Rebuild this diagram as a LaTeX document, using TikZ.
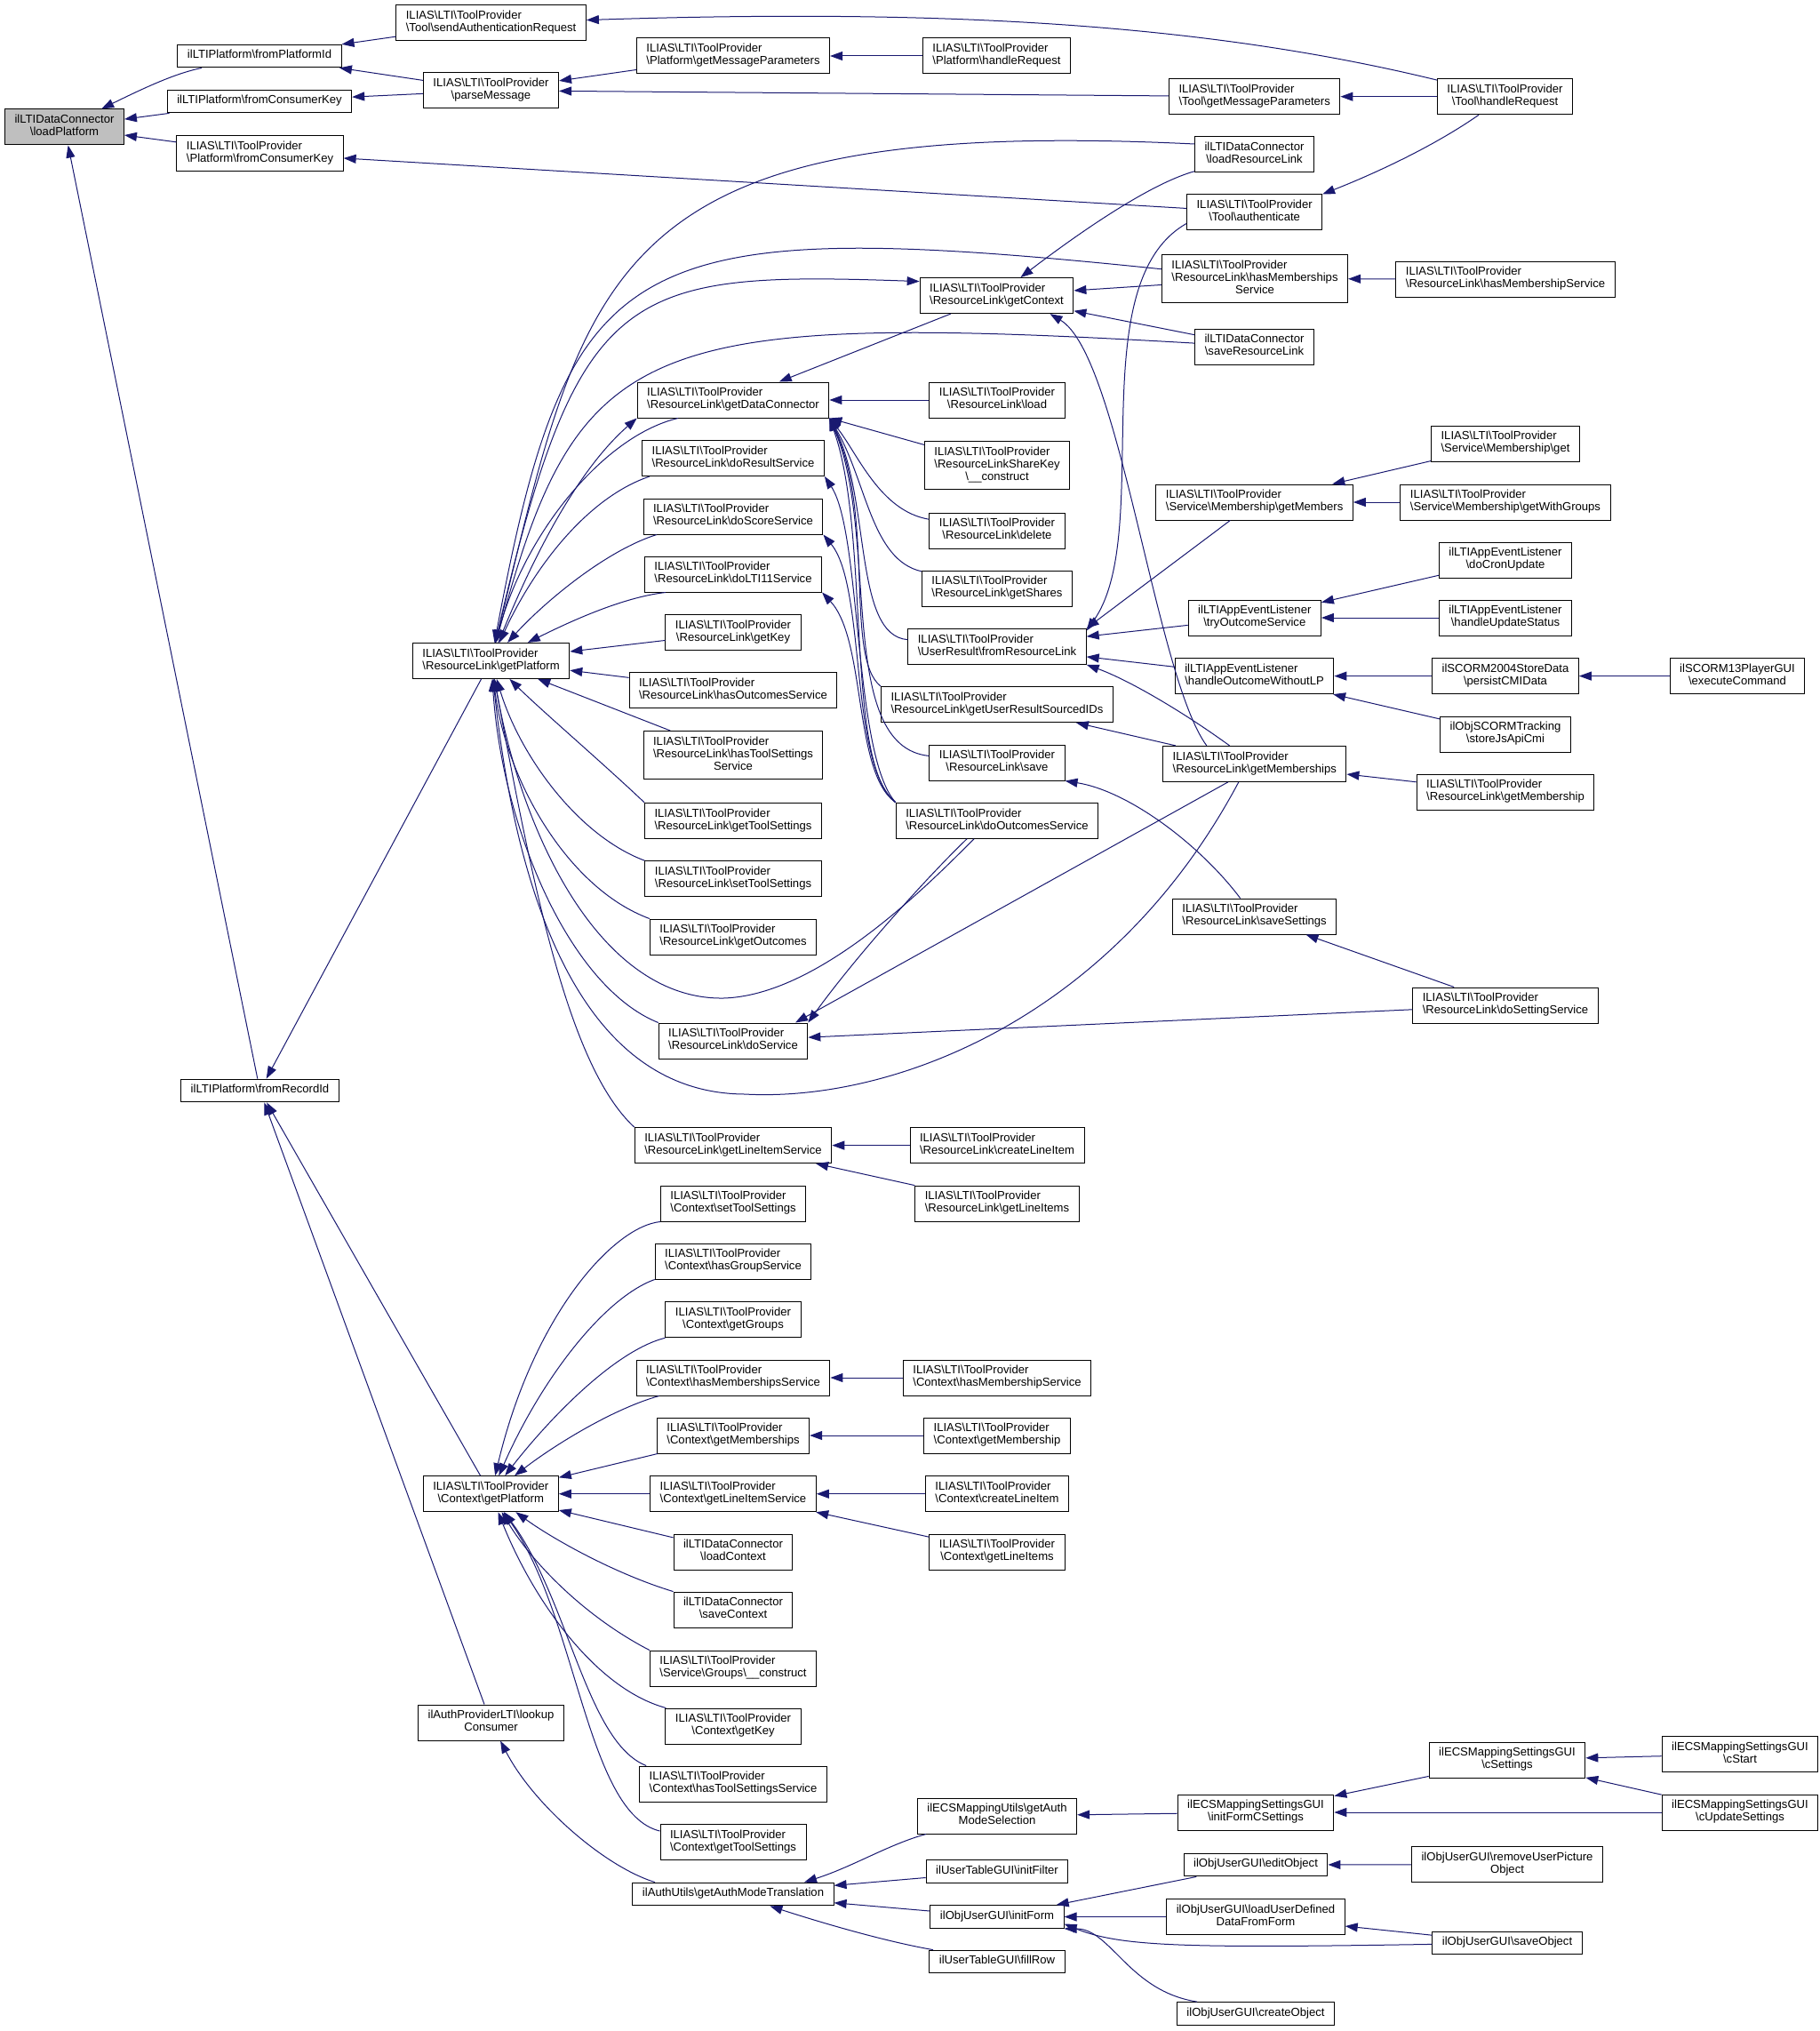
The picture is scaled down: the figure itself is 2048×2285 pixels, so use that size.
\documentclass[tikz,border=0pt]{standalone}
\usepackage{fontspec}
\setmainfont{Liberation Sans}
\usetikzlibrary{arrows.meta}
\definecolor{edgeblue}{HTML}{191970}
\definecolor{rootgray}{HTML}{BFBFBF}
\newcommand{\bsl}{\textbackslash}
\newcommand{\TP}{ILIAS\bsl LTI\bsl ToolProvider}
\newcommand{\lblone}[1]{\begin{tabular}{@{}c@{}}#1\end{tabular}}
\newcommand{\lbltwo}[2]{\begin{tabular}{@{}l@{}}#1\\\multicolumn{1}{@{}c@{}}{#2}\end{tabular}}
\newcommand{\lblthree}[3]{\begin{tabular}{@{}l@{}}#1\\#2\\\multicolumn{1}{@{}c@{}}{#3}\end{tabular}}

\begin{document}
\begin{tikzpicture}[x = 0.5pt, y = -0.5pt,
  func/.style = {draw = black, line width = 0.5pt, fill = white, inner xsep = 5.5pt, inner ysep = 2.9pt, font = \fontsize{6.55pt}{7.1pt}\selectfont},
  rootfunc/.style = {func, fill = rootgray},
  call/.style = {draw = edgeblue, line width = 0.5pt, {Triangle[length = 7pt, width = 5pt]}-}]
\useasboundingbox (0,0) rectangle (2048,2285);

\node[rootfunc] (loadPlat) at (72.5,143) {\lbltwo{ilLTIDataConnector}{\bsl loadPlatform}};
\node[func] (fromPlatId) at (292,63) {\lblone{ilLTIPlatform\bsl fromPlatformId}};
\node[func] (fromConsKey) at (292,114) {\lblone{ilLTIPlatform\bsl fromConsumerKey}};
\node[func] (platFromConsKey) at (292.5,172.4) {\lbltwo{\TP}{\bsl Platform\bsl fromConsumerKey}};
\node[func] (fromRecId) at (292.5,1227) {\lblone{ilLTIPlatform\bsl fromRecordId}};

\node[func] (sendAuth) at (552.6,26) {\lbltwo{\TP}{\bsl Tool\bsl sendAuthenticationRequest}};
\node[func] (parseMsg) at (552.5,101.8) {\lbltwo{\TP}{\bsl parseMessage}};
\node[func] (rlGetPlat) at (552.6,743.4) {\lbltwo{\TP}{\bsl ResourceLink\bsl getPlatform}};
\node[func] (ctxGetPlat) at (552.3,1680.7) {\lbltwo{\TP}{\bsl Context\bsl getPlatform}};
\node[func] (lookupCons) at (552.5,1938) {\lbltwo{ilAuthProviderLTI\bsl lookup}{Consumer}};

\node[func] (platGetMsg) at (825,63) {\lbltwo{\TP}{\bsl Platform\bsl getMessageParameters}};
\node[func] (rlGetDC) at (825,450) {\lbltwo{\TP}{\bsl ResourceLink\bsl getDataConnector}};
\node[func] (rlDoResult) at (825,515.5) {\lbltwo{\TP}{\bsl ResourceLink\bsl doResultService}};
\node[func] (rlDoScore) at (825,581) {\lbltwo{\TP}{\bsl ResourceLink\bsl doScoreService}};
\node[func] (rlDoLTI) at (825,646) {\lbltwo{\TP}{\bsl ResourceLink\bsl doLTI11Service}};
\node[func] (rlGetKey) at (825,711.5) {\lbltwo{\TP}{\bsl ResourceLink\bsl getKey}};
\node[func] (rlHasOut) at (825,776.7) {\lbltwo{\TP}{\bsl ResourceLink\bsl hasOutcomesService}};
\node[func] (rlHasTS) at (825,849.6) {\lblthree{\TP}{\bsl ResourceLink\bsl hasToolSettings}{Service}};
\node[func] (rlGetTS) at (825,923.3) {\lbltwo{\TP}{\bsl ResourceLink\bsl getToolSettings}};
\node[func] (rlSetTS) at (825,988.7) {\lbltwo{\TP}{\bsl ResourceLink\bsl setToolSettings}};
\node[func] (rlGetOut) at (825,1054) {\lbltwo{\TP}{\bsl ResourceLink\bsl getOutcomes}};
\node[func] (rlDoServ) at (825,1171) {\lbltwo{\TP}{\bsl ResourceLink\bsl doService}};
\node[func] (rlGetLIS) at (825,1288.6) {\lbltwo{\TP}{\bsl ResourceLink\bsl getLineItemService}};
\node[func] (ctxSetTS) at (825,1354) {\lbltwo{\TP}{\bsl Context\bsl setToolSettings}};
\node[func] (ctxHasGrp) at (825,1419) {\lbltwo{\TP}{\bsl Context\bsl hasGroupService}};
\node[func] (ctxGetGrps) at (825,1484.7) {\lbltwo{\TP}{\bsl Context\bsl getGroups}};
\node[func] (ctxHasMems) at (825,1550) {\lbltwo{\TP}{\bsl Context\bsl hasMembershipsService}};
\node[func] (ctxGetMems) at (825,1615) {\lbltwo{\TP}{\bsl Context\bsl getMemberships}};
\node[func] (ctxGetLIS) at (825,1680.7) {\lbltwo{\TP}{\bsl Context\bsl getLineItemService}};
\node[func] (loadCtx) at (825,1746) {\lbltwo{ilLTIDataConnector}{\bsl loadContext}};
\node[func] (saveCtx) at (825,1811) {\lbltwo{ilLTIDataConnector}{\bsl saveContext}};
\node[func] (grpsConstr) at (825,1877) {\lbltwo{\TP}{\bsl Service\bsl Groups\bsl \_\_construct}};
\node[func] (ctxGetKey) at (825,1942) {\lbltwo{\TP}{\bsl Context\bsl getKey}};
\node[func] (ctxHasTS) at (825,2007) {\lbltwo{\TP}{\bsl Context\bsl hasToolSettingsService}};
\node[func] (ctxGetTS) at (825,2072.5) {\lbltwo{\TP}{\bsl Context\bsl getToolSettings}};
\node[func] (authModeTrans) at (825,2131) {\lblone{ilAuthUtils\bsl getAuthModeTranslation}};

\node[func] (platHandle) at (1121.5,63) {\lbltwo{\TP}{\bsl Platform\bsl handleRequest}};
\node[func] (rlGetCtx) at (1121.5,332.6) {\lbltwo{\TP}{\bsl ResourceLink\bsl getContext}};
\node[func] (rlLoad) at (1122,450) {\lbltwo{\TP}{\bsl ResourceLink\bsl load}};
\node[func] (shareKey) at (1122,523.4) {\lblthree{\TP}{\bsl ResourceLinkShareKey}{\bsl \_\_construct}};
\node[func] (rlDelete) at (1122,597) {\lbltwo{\TP}{\bsl ResourceLink\bsl delete}};
\node[func] (rlShares) at (1122,662) {\lbltwo{\TP}{\bsl ResourceLink\bsl getShares}};
\node[func] (fromRL) at (1122,727.3) {\lbltwo{\TP}{\bsl UserResult\bsl fromResourceLink}};
\node[func] (rlGetURS) at (1122,792.6) {\lbltwo{\TP}{\bsl ResourceLink\bsl getUserResultSourcedIDs}};
\node[func] (rlSave) at (1122,858) {\lbltwo{\TP}{\bsl ResourceLink\bsl save}};
\node[func] (rlDoOut) at (1122,923.3) {\lbltwo{\TP}{\bsl ResourceLink\bsl doOutcomesService}};
\node[func] (rlCreateLI) at (1122,1288.6) {\lbltwo{\TP}{\bsl ResourceLink\bsl createLineItem}};
\node[func] (rlGetLIs) at (1122,1354) {\lbltwo{\TP}{\bsl ResourceLink\bsl getLineItems}};
\node[func] (ctxHasMem) at (1122,1550) {\lbltwo{\TP}{\bsl Context\bsl hasMembershipService}};
\node[func] (ctxGetMem) at (1122,1615) {\lbltwo{\TP}{\bsl Context\bsl getMembership}};
\node[func] (ctxCreateLI) at (1122,1680.7) {\lbltwo{\TP}{\bsl Context\bsl createLineItem}};
\node[func] (ctxGetLIs) at (1122,1746) {\lbltwo{\TP}{\bsl Context\bsl getLineItems}};
\node[func] (authModeSel) at (1122,2043) {\lbltwo{ilECSMappingUtils\bsl getAuth}{ModeSelection}};
\node[func] (initFilter) at (1122,2105.6) {\lblone{ilUserTableGUI\bsl initFilter}};
\node[func] (initForm) at (1122,2156.5) {\lblone{ilObjUserGUI\bsl initForm}};
\node[func] (fillRow) at (1122,2207) {\lblone{ilUserTableGUI\bsl fillRow}};

\node[func] (toolGetMsg) at (1411.7,108.7) {\lbltwo{\TP}{\bsl Tool\bsl getMessageParameters}};
\node[func] (loadRL) at (1411.5,174) {\lbltwo{ilLTIDataConnector}{\bsl loadResourceLink}};
\node[func] (toolAuth) at (1411.6,239) {\lbltwo{\TP}{\bsl Tool\bsl authenticate}};
\node[func] (rlHasMems) at (1412,313.6) {\lblthree{\TP}{\bsl ResourceLink\bsl hasMemberships}{Service}};
\node[func] (saveRL) at (1411.5,390) {\lbltwo{ilLTIDataConnector}{\bsl saveResourceLink}};
\node[func] (getMembers) at (1411.6,565) {\lbltwo{\TP}{\bsl Service\bsl Membership\bsl getMembers}};
\node[func] (tryOutcome) at (1411.8,695) {\lbltwo{ilLTIAppEventListener}{\bsl tryOutcomeService}};
\node[func] (outcomeNoLP) at (1411.6,760.6) {\lbltwo{ilLTIAppEventListener}{\bsl handleOutcomeWithoutLP}};
\node[func] (rlGetMems) at (1411.8,859.4) {\lbltwo{\TP}{\bsl ResourceLink\bsl getMemberships}};
\node[func] (saveSettings) at (1411.6,1031) {\lbltwo{\TP}{\bsl ResourceLink\bsl saveSettings}};
\node[func] (initFormCS) at (1413,2039) {\lbltwo{ilECSMappingSettingsGUI}{\bsl initFormCSettings}};
\node[func] (editObj) at (1413,2098) {\lblone{ilObjUserGUI\bsl editObject}};
\node[func] (loadUDF) at (1413,2156.5) {\lbltwo{ilObjUserGUI\bsl loadUserDefined}{DataFromForm}};
\node[func] (createObj) at (1413,2265.5) {\lblone{ilObjUserGUI\bsl createObject}};

\node[func] (toolHandle) at (1693.5,108.7) {\lbltwo{\TP}{\bsl Tool\bsl handleRequest}};
\node[func] (rlHasMem) at (1694,314) {\lbltwo{\TP}{\bsl ResourceLink\bsl hasMembershipService}};
\node[func] (memGet) at (1694,499) {\lbltwo{\TP}{\bsl Service\bsl Membership\bsl get}};
\node[func] (memGroups) at (1694,565) {\lbltwo{\TP}{\bsl Service\bsl Membership\bsl getWithGroups}};
\node[func] (cronUpdate) at (1694,630) {\lbltwo{ilLTIAppEventListener}{\bsl doCronUpdate}};
\node[func] (updStatus) at (1694,695) {\lbltwo{ilLTIAppEventListener}{\bsl handleUpdateStatus}};
\node[func] (persistCMI) at (1694,760.6) {\lbltwo{ilSCORM2004StoreData}{\bsl persistCMIData}};
\node[func] (storeCmi) at (1694,826) {\lbltwo{ilObjSCORMTracking}{\bsl storeJsApiCmi}};
\node[func] (rlGetMem) at (1694,891) {\lbltwo{\TP}{\bsl ResourceLink\bsl getMembership}};
\node[func] (doSetting) at (1694,1131) {\lbltwo{\TP}{\bsl ResourceLink\bsl doSettingService}};
\node[func] (cSettings) at (1696,1980) {\lbltwo{ilECSMappingSettingsGUI}{\bsl cSettings}};
\node[func] (removePic) at (1696,2097.7) {\lbltwo{ilObjUserGUI\bsl removeUserPicture}{Object}};
\node[func] (saveObj) at (1696,2186) {\lblone{ilObjUserGUI\bsl saveObject}};

\node[func] (execCmd) at (1955,760.6) {\lbltwo{ilSCORM13PlayerGUI}{\bsl executeCommand}};
\node[func] (cStart) at (1958,1973.5) {\lbltwo{ilECSMappingSettingsGUI}{\bsl cStart}};
\node[func] (cUpdate) at (1958,2039) {\lbltwo{ilECSMappingSettingsGUI}{\bsl cUpdateSettings}};

\draw[call] (loadPlat) .. controls (170,95) and (200,82) .. (fromPlatId);
\draw[call] (loadPlat)--(fromConsKey);
\draw[call] (loadPlat)--(platFromConsKey);
\draw[call] (loadPlat)--(fromRecId);
\draw[call] (fromPlatId)--(sendAuth);
\draw[call] (fromPlatId)--(parseMsg);
\draw[call] (fromConsKey)--(parseMsg);
\draw[call] (platFromConsKey)--(toolAuth);
\draw[call] (sendAuth) .. controls (1050,10) and (1350,25) .. (toolHandle);
\draw[call] (parseMsg)--(platGetMsg);
\draw[call] (parseMsg)--(toolGetMsg);
\draw[call] (platGetMsg)--(platHandle);
\draw[call] (toolGetMsg)--(toolHandle);
\draw[call] (toolAuth.north east) .. controls (1560,190) and (1620,160) .. (toolHandle);

\draw[call] (rlGetPlat) .. controls (660,300) and (680,130) .. ([yshift = 6pt]loadRL.west);
\draw[call] (rlGetPlat) .. controls (640,280) and (700,240) .. (rlHasMems);
\draw[call] ([yshift = 8pt]rlGetCtx.west) .. controls (700,305) and (650,320) .. (rlGetPlat);
\draw[call] (rlGetPlat) .. controls (650,380) and (720,350) .. (saveRL);
\draw[call] (rlGetPlat) .. controls (590,600) and (680,490) .. ([xshift = -31pt]rlGetDC.south);
\draw[call] (rlGetDC.south west) .. controls (660,520) and (610,600) .. (rlGetPlat);
\draw[call] (rlGetPlat) .. controls (600,640) and (660,560) .. ([xshift = -47pt]rlDoResult.south);
\draw[call] (rlGetPlat) .. controls (610,680) and (680,620) .. ([xshift = -43pt]rlDoScore.south);
\draw[call] (rlGetPlat) .. controls (640,700) and (700,672) .. ([xshift = -38pt]rlDoLTI.south);
\draw[call] (rlGetPlat)--(rlGetKey);
\draw[call] (rlGetPlat)--(rlHasOut);
\draw[call] (rlGetPlat)--(rlHasTS);
\draw[call] (rlGetPlat) .. controls (610,800) and (680,860) .. (rlGetTS.north west);
\draw[call] (rlGetPlat) .. controls (585,850) and (650,940) .. (rlSetTS.north west);
\draw[call] (rlGetPlat) .. controls (570,880) and (640,1000) .. (rlGetOut.north west);
\draw[call] (rlGetPlat) .. controls (565,930) and (640,1110) .. (rlDoServ.north west);
\draw[call] (rlGetPlat) .. controls (600,1000) and (640,1200) .. (rlGetLIS.north west);
\draw[call] (rlGetPlat) .. controls (590,950) and (680,1125) .. (814,1123) .. controls (920,1120) and (1040,1000) .. ([xshift = -13pt]rlDoOut.south);
\draw[call] (rlGetPlat) .. controls (580,1000) and (650,1230) .. (838,1231) .. controls (1000,1240) and (1250,1150) .. ([xshift = -9pt]rlGetMems.south);
\draw[call] (fromRecId)--(rlGetPlat);

\draw[call] (rlGetDC)--(rlLoad);
\draw[call] (rlGetDC.south east)--(shareKey);
\draw[call] (rlGetDC.south east) .. controls (965,510) and (990,575) .. (rlDelete);
\draw[call] (rlGetDC.south east) .. controls (975,540) and (980,630) .. (rlShares);
\draw[call] (rlGetDC.south east) .. controls (980,560) and (960,715) .. (fromRL);
\draw[call] (rlGetDC.south east) .. controls (985,580) and (950,740) .. (rlGetURS.north west);
\draw[call] (rlGetDC.south east) .. controls (990,600) and (940,840) .. (rlSave);
\draw[call] (rlGetDC.south east) .. controls (980,600) and (950,860) .. (rlDoOut.north west);
\draw[call] (rlGetDC)--(rlGetCtx);
\draw[call] (rlDoResult.south east) .. controls (970,600) and (960,850) .. (rlDoOut.north west);
\draw[call] (rlDoScore.south east) .. controls (975,660) and (955,860) .. (rlDoOut.north west);
\draw[call] (rlDoLTI.south east) .. controls (975,720) and (960,870) .. (rlDoOut.north west);

\draw[call] (rlGetCtx) .. controls (1230,250) and (1300,205) .. (loadRL);
\draw[call] (rlGetCtx)--(rlHasMems);
\draw[call] (rlGetCtx)--(saveRL);
\draw[call] ([xshift = 30pt]rlGetCtx.south) .. controls (1260,400) and (1300,760) .. ([xshift = -27pt]rlGetMems.north);
\draw[call] (rlHasMems)--(rlHasMem);

\draw[call] (fromRL.10) .. controls (1300,600) and (1215,320) .. ([yshift = 4pt]toolAuth.south west);
\draw[call] (fromRL.north east)--(getMembers);
\draw[call] (fromRL)--(tryOutcome);
\draw[call] (fromRL)--(outcomeNoLP);
\draw[call] (fromRL.south east) .. controls (1270,765) and (1330,800) .. (rlGetMems);
\draw[call] (rlGetURS)--(rlGetMems);
\draw[call] ([xshift = 35pt]rlDoServ.north)--([xshift = -15pt]rlGetMems.south);
\draw[call] (rlDoServ.north east) .. controls (960,1080) and (1040,990) .. ([xshift = -17pt]rlDoOut.south);
\draw[call] (rlDoServ)--(doSetting);
\draw[call] (saveSettings)--(doSetting);
\draw[call] (rlSave.south east) .. controls (1270,890) and (1350,950) .. ([xshift = -8pt]saveSettings.north);
\draw[call] (rlGetMems)--(rlGetMem);

\draw[call] (getMembers)--(memGet);
\draw[call] (getMembers)--(memGroups);
\draw[call] (tryOutcome)--(cronUpdate);
\draw[call] (tryOutcome)--(updStatus);
\draw[call] (outcomeNoLP)--(persistCMI);
\draw[call] (outcomeNoLP)--(storeCmi);
\draw[call] (persistCMI)--(execCmd);

\draw[call] (rlGetLIS)--(rlCreateLI);
\draw[call] (rlGetLIS)--(rlGetLIs);

\draw[call] (fromRecId)--(ctxGetPlat);
\draw[call] (fromRecId)--(lookupCons);
\draw[call] (ctxGetPlat) .. controls (600,1480) and (690,1380) .. (ctxSetTS.south west);
\draw[call] (ctxGetPlat) .. controls (610,1550) and (680,1460) .. (ctxHasGrp.south west);
\draw[call] (ctxGetPlat) .. controls (615,1600) and (690,1520) .. (ctxGetGrps.south west);
\draw[call] (ctxGetPlat) .. controls (625,1625) and (690,1585) .. ([xshift = 13pt]ctxHasMems.south west);
\draw[call] (ctxGetPlat)--(ctxGetMems);
\draw[call] (ctxGetPlat)--(ctxGetLIS);
\draw[call] (ctxGetPlat)--(loadCtx);
\draw[call] (ctxGetPlat) .. controls (620,1730) and (690,1770) .. (saveCtx);
\draw[call] (ctxGetPlat) .. controls (600,1760) and (660,1820) .. (grpsConstr.north west);
\draw[call] (ctxGetPlat) .. controls (600,1800) and (670,1900) .. (ctxGetKey);
\draw[call] (ctxGetPlat) .. controls (640,1800) and (660,1960) .. ([xshift = 4pt]ctxHasTS.north west);
\draw[call] (ctxGetPlat) .. controls (650,1820) and (660,2040) .. ([yshift = -4pt]ctxGetTS.north west);
\draw[call] (ctxHasMems)--(ctxHasMem);
\draw[call] (ctxGetMems)--(ctxGetMem);
\draw[call] (ctxGetLIS)--(ctxCreateLI);
\draw[call] (ctxGetLIS)--(ctxGetLIs);

\draw[call] (lookupCons) .. controls (600,2030) and (680,2100) .. ([xshift = -44pt]authModeTrans.north);
\draw[call] ([xshift = 40pt]authModeTrans.north) .. controls (960,2100) and (1000,2075) .. ([xshift = -40pt]authModeSel.south);
\draw[call] (authModeTrans)--(initFilter);
\draw[call] (authModeTrans)--(initForm);
\draw[call] (authModeTrans) .. controls (930,2165) and (1000,2185) .. ([xshift = -36pt]fillRow.north);
\draw[call] (authModeSel)--(initFormCS);
\draw[call] (initFormCS)--(cSettings);
\draw[call] (initFormCS)--(cUpdate);
\draw[call] (cSettings)--(cStart);
\draw[call] (cSettings)--(cUpdate);
\draw[call] (initForm)--(editObj);
\draw[call] (initForm)--(loadUDF);
\draw[call] ([yshift = -4pt]initForm.east) .. controls (1260,2190) and (1330,2192) .. (saveObj);
\draw[call] (initForm.south east) .. controls (1250,2170) and (1270,2240) .. ([xshift = -33pt]createObj.north);
\draw[call] (editObj)--(removePic);
\draw[call] (loadUDF)--(saveObj);
\end{tikzpicture}
\end{document}
